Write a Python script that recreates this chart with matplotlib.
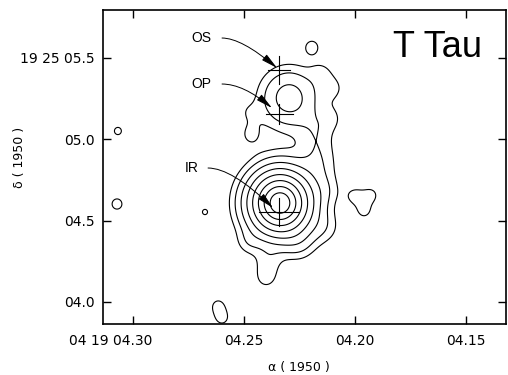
import numpy as np
import matplotlib
matplotlib.use("Agg")
from matplotlib import pyplot as plt
from matplotlib.transforms import ScaledTranslation

# emission components
# RA = seconds of 04h19m, Dec = arcsec of +19d25', sigma in arcsec
comp_ra = np.array([4.2338, 4.2297, 4.2149, 4.2099, 4.2104, 4.2176, 4.2167, 4.2149,
                    4.2122, 4.2135, 4.2248, 4.2392, 4.2401, 4.2482, 4.2487, 4.2473,
                    4.2194, 4.3068, 4.3072, 4.2676,
                    4.2000, 4.1928, 4.1959, 4.2617, 4.2599])
comp_dec = np.array([4.6074, 5.2515, 5.4110, 5.3129, 5.1288, 5.0552, 4.9448, 4.8343,
                     4.6871, 4.4540, 4.3497, 4.2454, 4.1472, 4.3620, 5.1657, 5.0245,
                     5.5644, 5.0491, 4.6012, 4.5521,
                     4.6503, 4.6564, 4.5582, 3.9755, 3.9019])
comp_amp = np.array([100, 23.5, 5, 6, 5, 5.5, 5.5, 5.5,
                     4.5, 6, 6, 6, 7, 5, 4, 6,
                     8, 8, 8, 8,
                     7, 7, 7, 7.5, 7.5])
comp_sigma = np.array([0.136, 0.125, 0.056, 0.062, 0.062, 0.081, 0.081, 0.081,
                       0.070, 0.075, 0.075, 0.062, 0.056, 0.056, 0.056, 0.062,
                       0.043, 0.029, 0.041, 0.020,
                       0.046, 0.046, 0.046, 0.042, 0.042])

levels = [6, 11, 19, 30, 44, 60, 76, 90]

# position crosses (OS, OP, IR)
cross_ra = [4.2342, 4.2342, 4.2342]
cross_dec = [5.4233, 5.1534, 4.552]
cross_dra = [0.005, 0.0061, 0.009]
cross_ddec = [0.085, 0.061, 0.086]

# labels and leader arrows
src_names = ['OS', 'OP', 'IR']
label_ra = [4.2694, 4.2694, 4.2734]
label_dec = [5.6196, 5.3374, 4.8221]
lead_ra = [4.2599, 4.2599, 4.2662]
tip_ra = [4.2351, 4.2374, 4.2369]
tip_dec = [5.4356, 5.1902, 4.5767]
lead_angle = [-40, -40, -44]

xticks = [4.30, 4.25, 4.20, 4.15]
xticklabels = ['04 19 04.30', '04.25', '04.20', '04.15']
yticks = [4.0, 4.5, 5.0, 5.5]
yticklabels = ['04.0', '04.5', '05.0', '19 25 05.5']

ra_lim = (4.3135, 4.132)
dec_lim = (3.865, 5.7914)

# build the map
ra_grid = np.linspace(ra_lim[1], ra_lim[0], 900)
dec_grid = np.linspace(dec_lim[0], dec_lim[1], 800)
RA, DEC = np.meshgrid(ra_grid, dec_grid)
field = np.zeros_like(RA)
for ra0, dec0, amp, sig in zip(comp_ra, comp_dec, comp_amp, comp_sigma):
    dx = (RA - ra0) * 14.15
    dy = DEC - dec0
    field += amp * np.exp(-(dx**2 + dy**2) / (2 * sig**2))

fig = plt.figure(figsize=(5.08, 3.75), dpi=100)
ax = fig.add_axes([0.2028, 0.136, 0.7933, 0.8373])

ax.contour(RA, DEC, field, levels=levels, colors='k', linewidths=0.8)

for ra0, dec0, dra, ddec in zip(cross_ra, cross_dec, cross_dra, cross_ddec):
    ax.plot([ra0 - dra, ra0 + dra], [dec0, dec0], color='k', lw=0.8)
    ax.plot([ra0, ra0], [dec0 - ddec, dec0 + ddec], color='k', lw=0.8)

for name, lx, ly, sx, tx, ty, ang in zip(src_names, label_ra, label_dec, lead_ra,
                                         tip_ra, tip_dec, lead_angle):
    ax.text(lx, ly, name, ha='center', va='center', fontsize=10,
            family='Liberation Sans')
    ax.annotate('', xy=(tx, ty), xytext=(sx, ly),
                arrowprops=dict(arrowstyle='-|>,head_length=1.0,head_width=0.22',
                                connectionstyle='angle3,angleA=0,angleB=%d' % ang,
                                color='k', lw=0.7, shrinkA=0, shrinkB=0))

ax.text(0.829, 0.882, 'T Tau', transform=ax.transAxes, ha='center', va='center',
        fontsize=26, family='Liberation Sans')

ax.set_xlim(ra_lim)
ax.set_ylim(dec_lim)
ax.set_xticks(xticks)
ax.set_xticklabels(xticklabels)
ax.set_yticks(yticks)
ax.set_yticklabels(yticklabels)
ax.tick_params(direction='in', length=6, width=1, top=True, right=True,
               labelsize=10)
ax.tick_params(axis='x', pad=7)
ax.tick_params(axis='y', pad=6)
for sp in ax.spines.values():
    sp.set_linewidth(1.2)

first = ax.get_xticklabels()[0]
first.set_horizontalalignment('right')
first.set_transform(first.get_transform() + ScaledTranslation(0.19, 0, fig.dpi_scale_trans))

fig.text(299 / 508, 1 - 367 / 375, 'α ( 1950 )', ha='center', va='center', fontsize=9)
fig.text(20 / 508, 1 - 157 / 375, 'δ ( 1950 )', ha='center', va='center',
         rotation=90, fontsize=9)

fig.savefig('out.png', dpi=100)
